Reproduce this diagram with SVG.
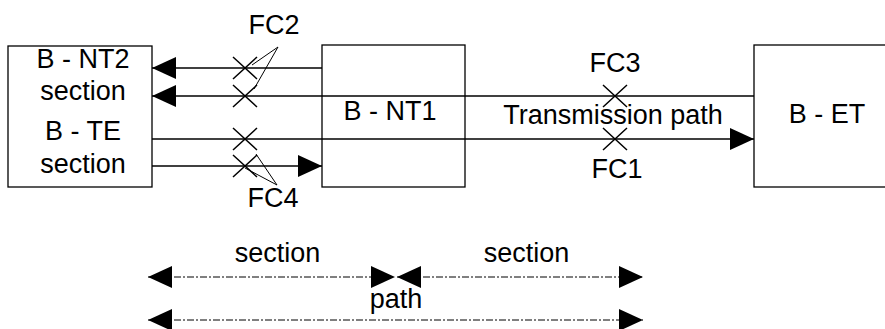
<svg xmlns="http://www.w3.org/2000/svg" width="885" height="329" viewBox="0 0 885 329">
<style>
  .box{fill:#fff;stroke:#000;stroke-width:1.3}
  .ln{stroke:#000;stroke-width:1.3;fill:none}
  .thin{stroke:#000;stroke-width:1;fill:none}
  .dash{stroke:#000;stroke-width:1;fill:none;stroke-dasharray:7 2 2 2}
  .x{stroke:#000;stroke-width:1.5;fill:none}
  text{font-family:"Liberation Sans",Arial,sans-serif;font-size:27px;fill:#000;text-anchor:middle}
</style>
<defs>
  <marker id="ah" viewBox="0 0 24 22" refX="24" refY="11" markerWidth="24" markerHeight="22" markerUnits="userSpaceOnUse" orient="auto-start-reverse">
    <path d="M0,0 L24,11 L0,22 Z" fill="#000"/>
  </marker>
  <path id="cross" d="M-12,-11 L12,11 M-12,11 L12,-11"/>
</defs>
<g id="nodes">
  <g id="left-box">
    <rect class="box" x="8" y="46" width="144" height="141"/>
    <text x="83" y="68">B - NT2</text>
    <text x="83" y="100">section</text>
    <text x="83" y="140">B - TE</text>
    <text x="83" y="173">section</text>
  </g>
  <g id="nt1">
    <rect class="box" x="322" y="45" width="143" height="142"/>
  </g>
  <g id="et">
    <rect class="box" x="754" y="45" width="150" height="142"/>
    <text x="827" y="123">B - ET</text>
  </g>
</g>
<g id="connectors">
  <line class="ln" x1="322" y1="68" x2="152" y2="68" marker-end="url(#ah)"/>
  <line class="ln" x1="754" y1="96" x2="152" y2="96" marker-end="url(#ah)"/>
  <line class="ln" x1="152" y1="139" x2="754" y2="139" marker-end="url(#ah)"/>
  <line class="ln" x1="152" y1="166" x2="322" y2="166" marker-end="url(#ah)"/>
  <line class="dash" x1="148" y1="277" x2="395" y2="277" marker-start="url(#ah)" marker-end="url(#ah)"/>
  <line class="dash" x1="397" y1="277" x2="643" y2="277" marker-start="url(#ah)" marker-end="url(#ah)"/>
  <line class="dash" x1="148" y1="320" x2="643" y2="320" marker-start="url(#ah)" marker-end="url(#ah)"/>
</g>
<g id="labels">
  <text x="390" y="120">B - NT1</text>
  <text x="613" y="124">Transmission path</text>
  <text x="274" y="34">FC2</text>
  <text x="273" y="207">FC4</text>
  <text x="615" y="72">FC3</text>
  <text x="617" y="178">FC1</text>
  <text x="277.5" y="262">section</text>
  <text x="526.5" y="262">section</text>
  <text x="396" y="308">path</text>
</g>
<g id="fault-marks">
  <use href="#cross" class="x" x="245" y="68"/>
  <use href="#cross" class="x" x="245" y="96"/>
  <use href="#cross" class="x" x="245" y="139"/>
  <use href="#cross" class="x" x="245" y="166"/>
  <use href="#cross" class="x" x="615" y="96"/>
  <use href="#cross" class="x" x="615" y="139"/>
  <path class="thin" d="M278,47 L252,65 M278,47 L254,89"/>
  <path class="thin" d="M277,185 L256,154 M277,185 L245,168"/>
</g>
</svg>
